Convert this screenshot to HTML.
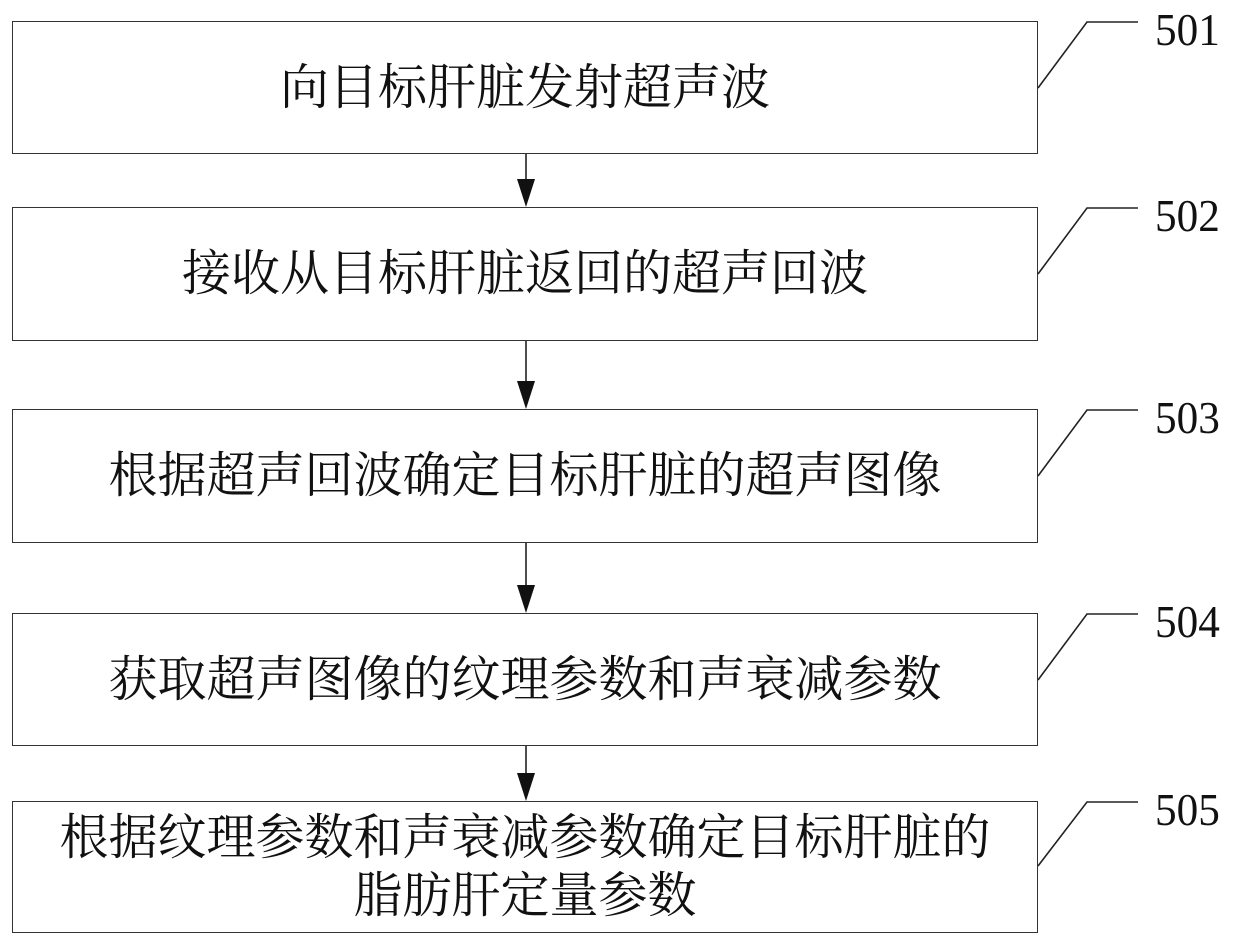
<!DOCTYPE html>
<html><head><meta charset="utf-8"><style>
body{margin:0;background:#fff;}
.wrap{position:relative;width:1239px;height:945px;overflow:hidden;}
.box{position:absolute;left:12px;width:1026px;border:1.5px solid #333;box-sizing:border-box;display:flex;flex-direction:column;align-items:center;justify-content:center;font-family:"Liberation Serif","Noto Serif CJK SC",serif;font-size:49px;color:#111;line-height:58px;}
.lbl{position:absolute;left:1155px;font-family:"Liberation Serif",serif;font-size:46px;line-height:46px;color:#111;transform:scaleX(0.94);transform-origin:left;}
</style></head><body><div class="wrap">
<div class="box" style="top:21px;height:133px">向目标肝脏发射超声波</div>
<div class="box" style="top:207px;height:134px">接收从目标肝脏返回的超声回波</div>
<div class="box" style="top:409px;height:134px">根据超声回波确定目标肝脏的超声图像</div>
<div class="box" style="top:613px;height:133px">获取超声图像的纹理参数和声衰减参数</div>
<div class="box" style="top:801px;height:132px"><div>根据纹理参数和声衰减参数确定目标肝脏的</div><div>脂肪肝定量参数</div></div>
<svg width="1239" height="945" style="position:absolute;left:0;top:0">
<g stroke="#222" stroke-width="1.6" fill="none">
<line x1="526" y1="154" x2="526" y2="190"/>
<line x1="526" y1="341" x2="526" y2="392"/>
<line x1="526" y1="543" x2="526" y2="596"/>
<line x1="526" y1="746" x2="526" y2="785"/>
<polyline points="1038,88 1087,22 1138,22"/>
<polyline points="1038,274 1087,208 1138,208"/>
<polyline points="1038,476 1087,410 1138,410"/>
<polyline points="1038,680 1087,614 1138,614"/>
<polyline points="1038,866 1087,802 1138,802"/>
</g>
<g fill="#111">
<polygon points="517,179 535,179 526,207"/>
<polygon points="517,381 535,381 526,409"/>
<polygon points="517,585 535,585 526,613"/>
<polygon points="517,773 535,773 526,801"/>
</g>
</svg>
<div class="lbl" style="top:7px">501</div>
<div class="lbl" style="top:193px">502</div>
<div class="lbl" style="top:395px">503</div>
<div class="lbl" style="top:599px">504</div>
<div class="lbl" style="top:787px">505</div>
</div></body></html>
